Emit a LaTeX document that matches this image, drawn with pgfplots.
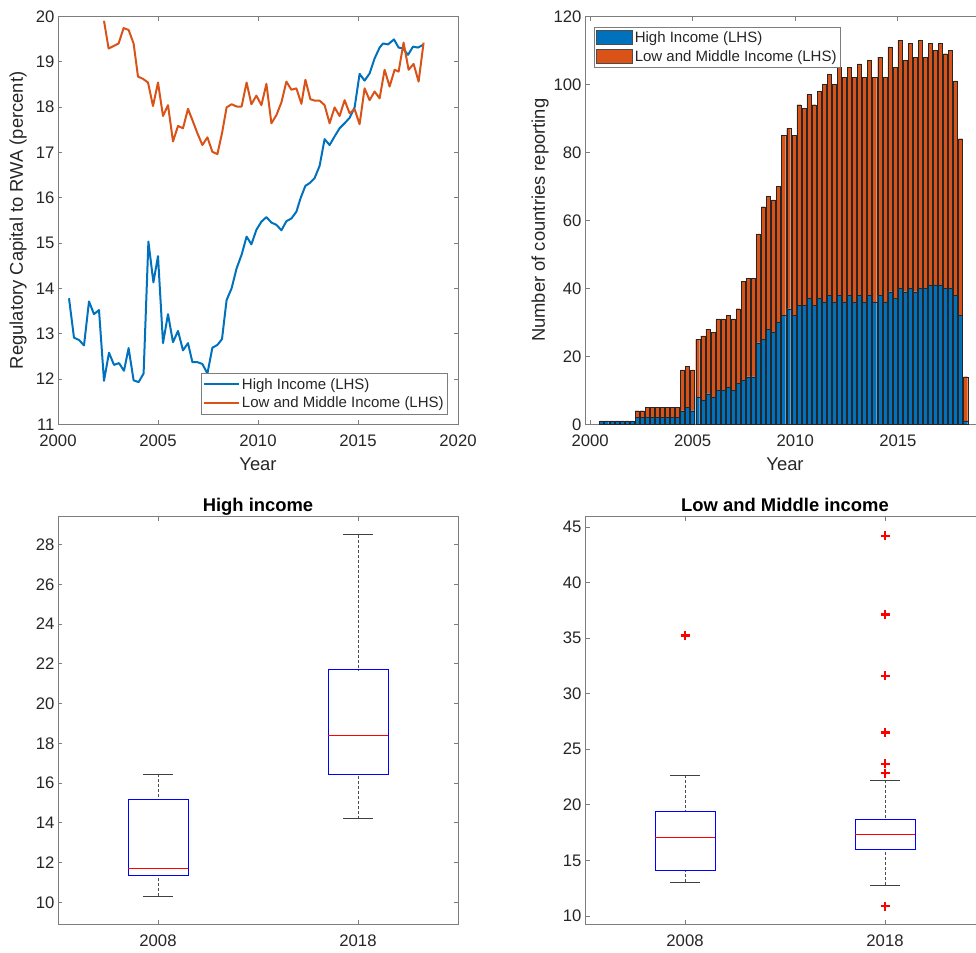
\documentclass[border=0pt]{standalone}
\usepackage{fontspec}
\setmainfont{Liberation Sans}
\usepackage{pgfplots}
\pgfplotsset{compat=1.18}
\usepackage{pgfplotstable}
\usepgfplotslibrary{statistics}
\definecolor{mblue}{RGB}{0,114,189}
\definecolor{morange}{RGB}{217,83,25}
\definecolor{axgray}{RGB}{125,125,125}
\definecolor{txt}{RGB}{38,38,38}
\newcommand\ticksz{\fontsize{16.7pt}{20pt}\selectfont}
\newcommand\labsz{\fontsize{18.4pt}{22pt}\selectfont}
\newcommand\legsz{\fontsize{15pt}{18pt}\selectfont}

\pgfplotstableread{
x hi lm
2000.560 1 0
2000.807 1 0
2001.053 1 0
2001.300 1 0
2001.546 1 0
2001.793 1 0
2002.039 1 0
2002.286 2 2
2002.532 2 2
2002.779 2 3
2003.025 2 3
2003.272 2 3
2003.518 2 3
2003.765 2 3
2004.011 2 3
2004.258 2 3
2004.504 4 12
2004.751 5 12
2004.997 4 12
2005.244 8 17
2005.490 7 19
2005.737 9 19
2005.983 8 19
2006.230 10 21
2006.476 10 21
2006.723 11 21
2006.969 10 21
2007.216 12 22
2007.462 13 29
2007.709 14 29
2007.955 14 29
2008.202 24 32
2008.448 25 39
2008.695 28 39
2008.941 27 39
2009.188 30 40
2009.434 32 53
2009.681 34 53
2009.927 32 53
2010.174 35 59
2010.420 35 58
2010.667 37 60
2010.913 35 59
2011.160 37 61
2011.406 36 64
2011.653 38 65
2011.899 36 64
2012.146 38 67
2012.392 36 66
2012.639 38 67
2012.885 36 66
2013.132 38 68
2013.378 36 66
2013.625 38 69
2013.871 36 66
2014.118 38 70
2014.364 36 66
2014.611 39 72
2014.857 37 68
2015.104 40 73
2015.350 39 68
2015.597 40 72
2015.843 39 69
2016.090 40 73
2016.336 40 68
2016.583 41 71
2016.829 41 69
2017.076 41 71
2017.322 40 69
2017.569 40 70
2017.815 38 63
2018.062 32 52
2018.308 1 13
}\bars

\tikzset{
  whiskerline/.style={black!70, line width=0.6pt, dash pattern=on 3pt off 2pt},
  capline/.style={black!75, line width=0.8pt},
}

\pgfplotsset{
  myaxis/.style={
    scale only axis, width=400pt, height=408pt,
    tick align=inside, major tick length=4.5pt,
    axis line style={axgray, line width=0.8pt},
    every tick/.style={axgray, line width=0.8pt},
    tick label style={font=\ticksz, text=txt},
    label style={font=\labsz, text=txt},
    /pgf/number format/assume math mode=true,
    /pgf/number format/1000 sep={},
    xticklabel style={yshift=-7pt},
    xtick pos=both, ytick pos=both,
    title style={font=\labsz\bfseries, text=black, at={(axis description cs:0.5,1.0135)}, anchor=base, yshift=-7pt},
  },
  mylegend/.style={draw=axgray, line width=0.6pt, fill=white,
    font=\legsz, text=txt, inner xsep=2pt, inner ysep=2.5pt, row sep=2.5pt, cells={anchor=west}},
  mybox/.style={
    boxplot/draw direction=y,
    boxplot/every box/.style={draw=blue, line width=0.8pt},
    boxplot/every median/.style={draw=red, line width=0.8pt},
    boxplot/draw/lower whisker/.code={%
      \draw[whiskerline] (boxplot box cs:\pgfplotsboxplotvalue{lower whisker},0.5) -- (boxplot box cs:\pgfplotsboxplotvalue{lower quartile},0.5);
      \draw[capline] (boxplot whisker cs:\pgfplotsboxplotvalue{lower whisker},0) -- (boxplot whisker cs:\pgfplotsboxplotvalue{lower whisker},1);
    },
    boxplot/draw/upper whisker/.code={%
      \draw[whiskerline] (boxplot box cs:\pgfplotsboxplotvalue{upper whisker},0.5) -- (boxplot box cs:\pgfplotsboxplotvalue{upper quartile},0.5);
      \draw[capline] (boxplot whisker cs:\pgfplotsboxplotvalue{upper whisker},0) -- (boxplot whisker cs:\pgfplotsboxplotvalue{upper whisker},1);
    },
    xmin=0.5, xmax=2.5, xtick={1,2}, xticklabels={2008,2018},
  },
}

\begin{document}
\begin{tikzpicture}
\useasboundingbox (0pt,0pt) rectangle (976pt,952pt);

% Top left: line chart
\begin{axis}[myaxis, at={(58pt,527.7pt)}, anchor=south west,
  xmin=2000, xmax=2020, ymin=11, ymax=20,
  xtick={2000,2005,...,2020}, ytick={11,12,...,20},
  xlabel={Year}, ylabel={Regulatory Capital to RWA (percent)},
  xlabel style={at={(axis description cs:0.5,-0.097)}, anchor=center},
  ylabel style={at={(axis description cs:-0.1,0.5)}, anchor=center},
  legend style={mylegend, at={(0.975,0.0245)}, anchor=south east},
  legend image code/.code={\draw[#1] (0pt,0pt) -- (35pt,0pt);},
]
\addplot[mblue, line width=2pt, line join=round] coordinates {
(2000.55,13.78)(2000.80,12.91)(2001.05,12.86)(2001.30,12.74)(2001.55,13.71)(2001.80,13.43)(2002.05,13.52)(2002.30,11.96)(2002.55,12.58)(2002.80,12.31)(2003.05,12.35)(2003.30,12.18)(2003.53,12.68)(2003.78,11.97)(2004.03,11.93)(2004.28,12.12)(2004.52,15.03)(2004.77,14.13)(2005.00,14.71)(2005.25,12.79)(2005.50,13.43)(2005.75,12.81)(2006.00,13.06)(2006.25,12.63)(2006.50,12.79)(2006.72,12.37)(2006.97,12.37)(2007.22,12.33)(2007.47,12.12)(2007.72,12.69)(2007.97,12.75)(2008.20,12.88)(2008.43,13.74)(2008.68,14.00)(2008.93,14.44)(2009.18,14.74)(2009.43,15.14)(2009.67,14.97)(2009.92,15.29)(2010.17,15.47)(2010.42,15.57)(2010.67,15.45)(2010.92,15.40)(2011.17,15.28)(2011.42,15.48)(2011.67,15.54)(2011.92,15.69)(2012.13,15.99)(2012.37,16.26)(2012.58,16.32)(2012.83,16.43)(2013.08,16.70)(2013.33,17.29)(2013.58,17.16)(2013.83,17.35)(2014.08,17.53)(2014.33,17.64)(2014.58,17.76)(2014.83,17.99)(2015.08,18.73)(2015.33,18.58)(2015.58,18.74)(2015.83,19.07)(2016.08,19.31)(2016.25,19.40)(2016.50,19.38)(2016.80,19.49)(2017.03,19.31)(2017.25,19.29)(2017.50,19.15)(2017.75,19.33)(2018.00,19.31)(2018.25,19.37)
};
\addlegendentry{High Income (LHS)}
\addplot[morange, line width=2pt, line join=round] coordinates {
(2002.30,19.90)(2002.53,19.29)(2002.80,19.35)(2003.03,19.40)(2003.28,19.74)(2003.53,19.70)(2003.78,19.40)(2004.00,18.67)(2004.25,18.62)(2004.50,18.54)(2004.75,18.02)(2005.00,18.54)(2005.25,17.80)(2005.50,18.04)(2005.75,17.24)(2006.00,17.58)(2006.25,17.53)(2006.50,17.96)(2006.72,17.71)(2006.97,17.42)(2007.22,17.16)(2007.47,17.33)(2007.72,17.01)(2007.97,16.96)(2008.20,17.42)(2008.43,17.99)(2008.68,18.06)(2008.93,18.01)(2009.18,18.01)(2009.43,18.54)(2009.67,18.06)(2009.92,18.25)(2010.17,18.04)(2010.42,18.51)(2010.67,17.64)(2010.92,17.82)(2011.17,18.10)(2011.42,18.56)(2011.67,18.38)(2011.92,18.41)(2012.17,18.07)(2012.37,18.60)(2012.62,18.17)(2012.83,18.14)(2013.08,18.14)(2013.33,18.04)(2013.58,17.64)(2013.83,17.99)(2014.08,17.80)(2014.33,18.15)(2014.58,17.86)(2014.83,17.95)(2015.08,17.62)(2015.33,18.41)(2015.58,18.15)(2015.83,18.34)(2016.08,18.19)(2016.33,18.82)(2016.58,18.45)(2016.83,18.82)(2017.03,18.78)(2017.28,19.42)(2017.53,18.82)(2017.78,18.95)(2018.03,18.56)(2018.28,19.42)
};
\addlegendentry{Low and Middle Income (LHS)}
\end{axis}

% Top right: stacked bars
\begin{axis}[myaxis, at={(585pt,527.7pt)}, anchor=south west,
  xmin=1999.75, xmax=2019.25, ymin=0, ymax=120,
  xtick={2000,2005,2010,2015}, ytick={0,20,...,120},
  ybar stacked, bar width=0.197,
  xlabel={Year}, ylabel={Number of countries reporting},
  xlabel style={at={(axis description cs:0.5,-0.097)}, anchor=center},
  ylabel style={at={(axis description cs:-0.1125,0.5)}, anchor=center},
  legend style={mylegend, at={(0.0225,0.9745)}, anchor=north west},
]
\addplot[fill=mblue, draw=black!85, line width=0.35pt,
  legend image code/.code={\draw[fill=mblue, draw=black!70, line width=0.5pt] (0pt,-7pt) rectangle (36pt,7pt);}]
  table[x=x, y=hi] {\bars};
\addlegendentry{High Income (LHS)}
\addplot[fill=morange, draw=black!85, line width=0.35pt,
  legend image code/.code={\draw[fill=morange, draw=black!70, line width=0.5pt] (0pt,-7pt) rectangle (36pt,7pt);}]
  table[x=x, y=lm] {\bars};
\addlegendentry{Low and Middle Income (LHS)}
\end{axis}

% Bottom left: boxplot high income
\begin{axis}[myaxis, mybox, at={(58pt,27.7pt)}, anchor=south west,
  ymin=8.89, ymax=29.43, ytick={10,12,...,28},
  title={High income},
]
\addplot[boxplot prepared={draw position=1, lower whisker=10.3, lower quartile=11.35,
  median=11.7, upper quartile=15.2, upper whisker=16.45, box extend=0.3, whisker extend=0.15}]
  coordinates {};
\addplot[boxplot prepared={draw position=2, lower whisker=14.2, lower quartile=16.45,
  median=18.4, upper quartile=21.7, upper whisker=28.5, box extend=0.3, whisker extend=0.15}]
  coordinates {};
\end{axis}

% Bottom right: boxplot low and middle income
\begin{axis}[myaxis, mybox, at={(585pt,27.7pt)}, anchor=south west,
  ymin=9.25, ymax=45.96, ytick={10,15,...,45},
  title={Low and Middle income},
]
\addplot[boxplot prepared={draw position=1, lower whisker=13.03, lower quartile=14.08,
  median=17.1, upper quartile=19.38, upper whisker=22.68, box extend=0.3, whisker extend=0.15},
  mark=+, mark size=4.5pt, mark options={red, line width=2.2pt}]
  coordinates {(1,35.23)};
\addplot[boxplot prepared={draw position=2, lower whisker=12.79, lower quartile=16.02,
  median=17.34, upper quartile=18.66, upper whisker=22.23, box extend=0.3, whisker extend=0.15},
  mark=+, mark size=4.5pt, mark options={red, line width=2.2pt}]
  coordinates {(2,44.22) (2,37.12) (2,31.61) (2,26.51) (2,23.70) (2,22.86) (2,10.87)};
\end{axis}
\end{tikzpicture}
\end{document}
